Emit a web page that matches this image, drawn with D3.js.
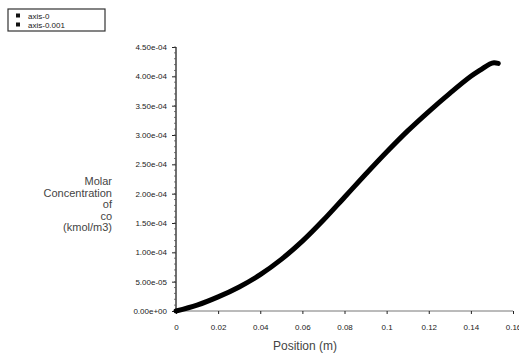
<!DOCTYPE html>
<html><head><meta charset="utf-8">
<script src="https://cdn.jsdelivr.net/npm/d3@7"></script>
<style>body{margin:0;background:#fff}svg{display:block}text{font-family:"Liberation Sans",Arial,sans-serif}</style>
</head><body>
<svg id="c" width="519" height="361"></svg>
<script>
const positions = [0,0.01,0.02,0.03,0.04,0.05,0.06,0.07,0.08,0.09,0.10,0.11,0.12,0.13,0.14,0.145,0.149,0.151,0.153];
const concentration = [0,1.0e-5,2.4e-5,4.1e-5,6.2e-5,8.8e-5,1.19e-4,1.55e-4,1.94e-4,2.33e-4,2.71e-4,3.07e-4,3.40e-4,3.71e-4,4.00e-4,4.12e-4,4.21e-4,4.23e-4,4.22e-4];
const xTicks = [0,0.02,0.04,0.06,0.08,0.1,0.12,0.14,0.16];
const xTickLabels = ["0","0.02","0.04","0.06","0.08","0.1","0.12","0.14","0.16"];
const yTicks = [0,5e-5,1e-4,1.5e-4,2e-4,2.5e-4,3e-4,3.5e-4,4e-4,4.5e-4];
const yTickLabels = ["0.00e+00","5.00e-05","1.00e-04","1.50e-04","2.00e-04","2.50e-04","3.00e-04","3.50e-04","4.00e-04","4.50e-04"];
const legendLabels = ["axis-0","axis-0.001"];
const yTitle = ["Molar","Concentration","of","co","(kmol/m3)"];
const xTitle = "Position (m)";

const svg = d3.select("#c");
const x = d3.scaleLinear().domain([0,0.16]).range([176,513]);
const y = d3.scaleLinear().domain([0,4.5e-4]).range([311,47]);

// y axis
const ya = svg.append("g").attr("transform","translate(176,0)")
  .call(d3.axisLeft(y).tickValues(yTicks).tickFormat((d,i)=>yTickLabels[i]).tickSize(4).tickPadding(5));
ya.select(".domain").attr("stroke","#111").attr("stroke-width",1.2).attr("d","M-0,47V311");
ya.selectAll("text").attr("font-size",8).attr("fill","#222");
ya.selectAll("line").attr("stroke","#222");
const yMinor = d3.range(0,4.5e-4+1e-9,1e-5);
svg.append("g").selectAll("line").data(yMinor).join("line")
  .attr("x1",174).attr("x2",176).attr("y1",d=>y(d)).attr("y2",d=>y(d)).attr("stroke","#555").attr("stroke-width",0.8);

// x axis
const xa = svg.append("g").attr("transform","translate(0,311)")
  .call(d3.axisBottom(x).tickValues(xTicks).tickFormat((d,i)=>xTickLabels[i]).tickSize(3).tickPadding(10));
xa.select(".domain").attr("stroke","#777").attr("stroke-width",1).attr("d","M176,0H513");
xa.selectAll("text").attr("font-size",8).attr("fill","#222");
xa.selectAll("line").attr("stroke","#222");

// curve
const line = d3.line().x((d,i)=>x(positions[i])).y(d=>y(d)).curve(d3.curveCatmullRom.alpha(0.5));
svg.append("path").datum(concentration).attr("d",line)
  .attr("fill","none").attr("stroke","#000").attr("stroke-width",5).attr("stroke-linecap","round").attr("stroke-linejoin","round");

// y title
const yt = svg.append("text").attr("text-anchor","end").attr("font-size",11).attr("fill","#444");
yt.selectAll("tspan").data(yTitle).join("tspan").attr("x",112).attr("y",(d,i)=>185+i*11.5).text(d=>d);

// x title
svg.append("text").attr("x",305).attr("y",350).attr("text-anchor","middle").attr("font-size",12).attr("fill","#444").text(xTitle);

// legend
svg.append("rect").attr("x",8).attr("y",9).attr("width",97).attr("height",22).attr("fill","none").attr("stroke","#333").attr("stroke-width",1.2);
const lg = svg.append("g").selectAll("g").data(legendLabels).join("g")
  .attr("transform",(d,i)=>`translate(0,${16+i*9})`);
lg.append("rect").attr("x",16).attr("y",-2.5).attr("width",4).attr("height",4).attr("fill","#111");
lg.append("text").attr("x",28).attr("y",2.5).attr("font-size",8).attr("fill","#222").text(d=>d);
</script>
</body></html>
